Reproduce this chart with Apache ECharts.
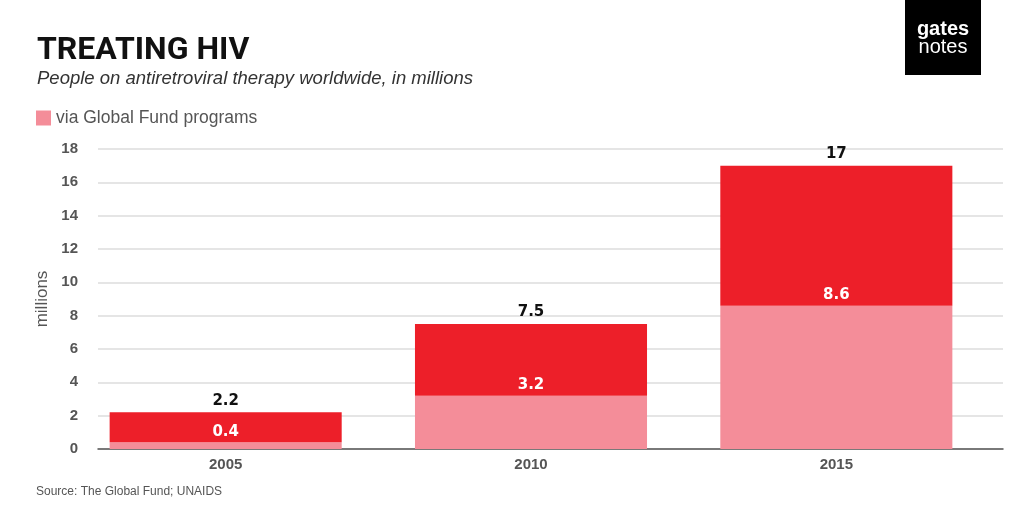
<!DOCTYPE html>
<html>
<head>
<meta charset="utf-8">
<script src="https://cdn.jsdelivr.net/npm/echarts@6/dist/echarts.min.js"></script>
<style>html,body{margin:0;padding:0;background:#fff}#c{width:1024px;height:512px}</style>
</head>
<body>
<div id="c"></div>
<script>
const years = ['2005', '2010', '2015'];
const globalFund = [0.4, 3.2, 8.6];
const otherPrograms = [1.8, 4.3, 8.4];
const totals = [2.2, 7.5, 17];
const yTicks = [0, 2, 4, 6, 8, 10, 12, 14, 16, 18];

const chart = echarts.init(document.getElementById('c'));
const axisFont = { color: '#555', fontWeight: 'bold', fontSize: 15, fontFamily: 'Liberation Sans, Arial, sans-serif' };
chart.setOption({
  backgroundColor: '#fff',
  animation: false,
  title: [
    { text: 'TREATING HIV', left: 37, top: 35, padding: 0, textStyle: { fontFamily: 'Roboto, sans-serif', fontWeight: 'bold', fontSize: 32, color: '#111' } },
    { text: 'People on antiretroviral therapy worldwide, in millions', left: 37, top: 69, padding: 0, textStyle: { fontFamily: 'Liberation Sans, Arial, sans-serif', fontStyle: 'italic', fontWeight: 'normal', fontSize: 18.5, color: '#333' } },
    { text: 'Source: The Global Fund; UNAIDS', left: 36, top: 486, padding: 0, textStyle: { fontFamily: 'Liberation Sans, Arial, sans-serif', fontWeight: 'normal', fontSize: 12, color: '#555' } }
  ],
  legend: {
    data: ['via Global Fund programs'], left: 36, top: 109, padding: 0, icon: 'rect', itemWidth: 15, itemHeight: 15, itemGap: 10,
    textStyle: { fontFamily: 'Liberation Sans, Arial, sans-serif', fontSize: 17.5, color: '#555', padding: [0, 0, 0, 0] }
  },
  graphic: [
    { type: 'rect', shape: { x: 905, y: 0, width: 76, height: 75 }, style: { fill: '#000' } },
    { type: 'text', x: 943, y: 29, style: { text: 'gates', fill: '#fff', font: 'bold 20px Liberation Sans, Arial', align: 'center', verticalAlign: 'middle' } },
    { type: 'text', x: 943, y: 47, style: { text: 'notes', fill: '#fff', font: '20px Liberation Sans, Arial', align: 'center', verticalAlign: 'middle' } }
  ],
  grid: [
    { left: 73, right: 35, top: 149, bottom: 63 },
    { left: 98, right: 21, top: 149, bottom: 63 }
  ],
  xAxis: [
    { type: 'category', gridIndex: 0, data: years, axisLine: { show: false }, axisTick: { show: false }, axisLabel: Object.assign({ margin: 8 }, axisFont) },
    { type: 'category', gridIndex: 1, data: years, axisLine: { show: true, lineStyle: { color: '#555', width: 1.5 } }, axisTick: { show: false }, axisLabel: { show: false } }
  ],
  yAxis: [
    { type: 'value', gridIndex: 0, min: 0, max: 18, interval: 2, show: false, splitLine: { show: false } },
    { type: 'value', gridIndex: 1, min: 0, max: 18, interval: 2,
      name: 'millions', nameLocation: 'middle', nameGap: 44, nameRotate: 90,
      nameTextStyle: { color: '#555', fontSize: 17, fontFamily: 'Liberation Sans, Arial, sans-serif' },
      axisLine: { show: false }, axisTick: { show: false },
      axisLabel: Object.assign({ margin: 20, formatter: v => yTicks.includes(v) ? String(v) : '' }, axisFont),
      splitLine: { show: true, lineStyle: { color: '#ddd', width: 1.5 } } }
  ],
  series: [
    { name: 'via Global Fund programs', type: 'bar', stack: 'a', xAxisIndex: 0, yAxisIndex: 0, data: globalFund, barCategoryGap: '24%',
      itemStyle: { color: '#F48D99' },
      label: { show: true, position: 'top', distance: 3, color: '#fff', fontWeight: 'bold', fontSize: 15, fontFamily: 'DejaVu Sans, sans-serif' } },
    { name: 'other', type: 'bar', stack: 'a', xAxisIndex: 0, yAxisIndex: 0, data: otherPrograms,
      itemStyle: { color: '#ED1F29' },
      label: { show: true, position: 'top', distance: 4, color: '#111', fontWeight: 'bold', fontSize: 15, fontFamily: 'DejaVu Sans, sans-serif',
        formatter: p => String(totals[p.dataIndex]) } }
  ]
});
</script>
</body>
</html>
